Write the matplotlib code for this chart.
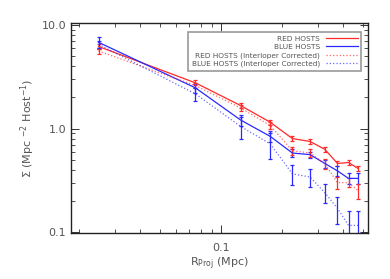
import numpy as np
import matplotlib
matplotlib.use('Agg')
import matplotlib.pyplot as plt

# radial bins (Mpc)
r_proj = [0.025, 0.075, 0.125, 0.175, 0.225, 0.275, 0.325, 0.375, 0.425, 0.475]

# surface density, red / blue hosts
red = [6.2, 2.76, 1.67, 1.15, 0.80, 0.75, 0.63, 0.46, 0.47, 0.41]
red_err = [0.40, 0.15, 0.08, 0.06, 0.04, 0.04, 0.03, 0.025, 0.025, 0.025]
blue = [6.8, 2.47, 1.21, 0.84, 0.58, 0.56, 0.46, 0.39, 0.33, 0.33]
blue_err = [0.8, 0.25, 0.15, 0.10, 0.05, 0.04, 0.04, 0.04, 0.04, 0.04]

# interloper corrected
red_ic = [5.6, 2.6, 1.58, 1.07, 0.61, 0.58, 0.456, 0.30, 0.30, 0.25]
red_ic_err = [0.30, 0.15, 0.10, 0.08, 0.05, 0.05, 0.05, 0.04, 0.03, 0.04]
blue_ic = [6.5, 2.16, 1.05, 0.71, 0.365, 0.34, 0.24, 0.17, 0.116, 0.116]
blue_ic_err = [0.5, 0.30, 0.25, 0.20, 0.08, 0.07, 0.05, 0.05, 0.045, 0.045]

RED = '#ff2a2a'
BLUE = '#2a2aff'
GRAY = '#555555'

plt.rcParams['font.family'] = 'DejaVu Sans'
fig = plt.figure(figsize=(3.9, 2.79), dpi=100)
ax = fig.add_axes([71/390, 1-233/279, (368-71)/390, (233-23)/279])

kw = dict(lw=0.9, capsize=1.6, elinewidth=0.9, capthick=0.9)
c1 = ax.errorbar(r_proj, red, yerr=red_err, color=RED, label='RED HOSTS', **kw)
c2 = ax.errorbar(r_proj, blue, yerr=blue_err, color=BLUE, label='BLUE HOSTS', **kw)
c3 = ax.errorbar(r_proj, red_ic, yerr=red_ic_err, color=RED, ls=':',
                 label='RED HOSTS (Interloper Corrected)', **kw)
c4 = ax.errorbar(r_proj, blue_ic, yerr=blue_ic_err, color=BLUE, ls=':',
                 label='BLUE HOSTS (Interloper Corrected)', **kw)
for c in (c3, c4):
    c[0].set_alpha(0.7)

ax.set_xscale('log')
ax.set_yscale('log')
ax.set_xlim(0.0183, 0.53)
ax.set_ylim(0.098, 10.45)

ax.set_yticks([0.1, 1.0, 10.0])
ax.set_yticklabels(['0.1', '1.0', '10.0'])
ax.set_xticks([0.1])
ax.set_xticklabels(['0.1'])
ax.tick_params(which='both', direction='in', top=True, right=True,
               colors='#333333', labelcolor=GRAY, labelsize=8)
ax.tick_params(which='major', length=6, width=0.7)
ax.tick_params(which='minor', length=3, width=0.6)
ax.tick_params(axis='x', pad=7)
for s in ax.spines.values():
    s.set_linewidth(1.0)
    s.set_color('#222222')

ax.set_xlabel(r'R$_{\rm Proj}$ (Mpc)', color=GRAY, fontsize=8, labelpad=2)
ax.set_ylabel(r'$\Sigma$ (Mpc $^{-2}$ Host$^{-1}$)', color=GRAY, fontsize=8,
              labelpad=3)

handles = [c[0] for c in (c1, c2, c3, c4)]
labels = [c.get_label() for c in (c1, c2, c3, c4)]
leg = ax.legend(handles, labels, loc='upper right', markerfirst=False,
                fontsize=5.3, handlelength=4.3, handletextpad=0.8,
                labelspacing=0.28, borderpad=0.5, fancybox=False,
                framealpha=1, edgecolor='#999999',
                bbox_to_anchor=(0.99, 0.975))
leg.get_frame().set_linewidth(1.2)
for t in leg.get_texts():
    t.set_color(GRAY)

fig.savefig('out.png', dpi=100)
